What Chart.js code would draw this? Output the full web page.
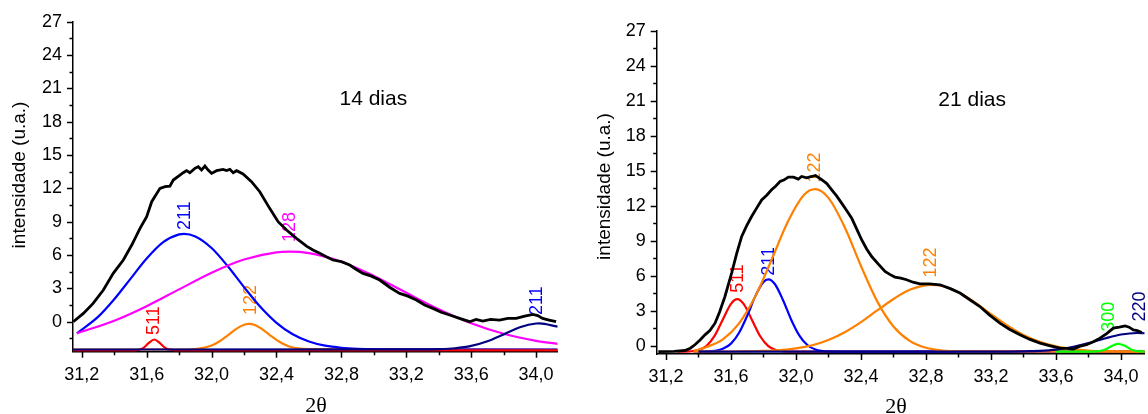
<!DOCTYPE html>
<html>
<head>
<meta charset="utf-8">
<script src="https://cdn.jsdelivr.net/npm/chart.js@4.4.1/dist/chart.umd.min.js"></script>
<style>
  body { margin: 0; background: #fff; }
  #wrap { position: relative; width: 1148px; height: 414px; }
  canvas { position: absolute; top: 0; }
</style>
</head>
<body>
<div id="wrap">
  <canvas id="chart-14" width="580" height="414" style="left:0px"></canvas>
  <canvas id="chart-21" width="568" height="414" style="left:580px"></canvas>
</div>
<script>
// ---- axis ticks ----
const xMajorTicks = [31.2, 31.6, 32.0, 32.4, 32.8, 33.2, 33.6, 34.0];
const xMinorTicks = [31.4, 31.8, 32.2, 32.6, 33.0, 33.4, 33.8];
const yMajorTicks = [0, 3, 6, 9, 12, 15, 18, 21, 24, 27];
const yMinorTicks14 = [-1.5, 1.5, 4.5, 7.5, 10.5, 13.5, 16.5, 19.5, 22.5, 25.5];
const yMinorTicks21 = [1.5, 4.5, 7.5, 10.5, 13.5, 16.5, 19.5, 22.5, 25.5];

// ---- 14 dias ----
const obs14X = [31.148, 31.21, 31.27, 31.333, 31.394, 31.456, 31.508, 31.559, 31.6, 31.631, 31.682, 31.713, 31.743, 31.764, 31.805, 31.825, 31.846, 31.866, 31.897, 31.918, 31.938, 31.959, 31.979, 32.0, 32.031, 32.071, 32.092, 32.113, 32.133, 32.154, 32.194, 32.246, 32.297, 32.358, 32.41, 32.462, 32.523, 32.585, 32.625, 32.666, 32.707, 32.748, 32.8, 32.851, 32.892, 32.933, 32.985, 33.036, 33.097, 33.159, 33.21, 33.262, 33.313, 33.364, 33.415, 33.467, 33.528, 33.59, 33.63, 33.671, 33.72, 33.774, 33.826, 33.877, 33.93, 33.98, 34.01, 34.04, 34.08, 34.123];
const obs14Y = [0.0, 0.75, 1.65, 2.85, 4.35, 5.55, 6.9, 8.4, 9.45, 10.8, 12.0, 12.15, 12.2, 12.75, 13.2, 13.41, 13.6, 13.41, 13.8, 13.95, 13.65, 14.01, 13.65, 13.35, 13.59, 13.71, 13.6, 13.71, 13.41, 13.59, 13.29, 12.6, 11.7, 10.2, 9.0, 8.25, 7.5, 6.8, 6.45, 6.15, 5.85, 5.55, 5.4, 5.1, 4.7, 4.35, 4.1, 3.75, 3.1, 2.55, 2.3, 1.95, 1.5, 1.2, 0.85, 0.6, 0.3, 0.0, 0.2, 0.05, 0.2, 0.15, 0.3, 0.3, 0.5, 0.66, 0.55, 0.3, 0.15, 0.0];

const p511_14X = [31.146, 31.5, 31.55, 31.58, 31.61, 31.647, 31.68, 31.71, 31.74, 31.8, 34.133];
const p511_14Y = [-2.58, -2.58, -2.53, -2.35, -1.96, -1.6, -1.9, -2.31, -2.52, -2.58, -2.58];

const p211a_14X = [31.17, 31.3, 31.4, 31.5, 31.6, 31.7, 31.8, 31.83, 31.9, 32.0, 32.1, 32.2, 32.3, 32.4, 32.5, 32.6, 32.7, 32.8, 32.9, 33.0, 34.133];
const p211a_14Y = [-1.04, 0.43, 2.02, 3.86, 5.69, 7.14, 7.86, 7.9, 7.67, 6.63, 4.99, 3.11, 1.34, -0.1, -1.13, -1.78, -2.16, -2.35, -2.44, -2.48, -2.5];

const p128_14X = [31.17, 31.4, 31.6, 31.8, 32.0, 32.2, 32.4, 32.48, 32.6, 32.8, 33.0, 33.2, 33.4, 33.6, 33.8, 34.0, 34.133];
const p128_14Y = [-1.05, 0.09, 1.4, 2.91, 4.41, 5.6, 6.24, 6.3, 6.17, 5.4, 4.12, 2.6, 1.12, -0.14, -1.09, -1.72, -2.0];

const p122_14X = [31.146, 31.85, 31.95, 32.0, 32.05, 32.1, 32.15, 32.2, 32.231, 32.27, 32.32, 32.37, 32.42, 32.47, 32.52, 32.6, 34.133];
const p122_14Y = [-2.5, -2.5, -2.35, -2.14, -1.76, -1.23, -0.67, -0.28, -0.2, -0.32, -0.75, -1.32, -1.83, -2.18, -2.37, -2.47, -2.5];

const p211b_14X = [31.146, 33.3, 33.4, 33.5, 33.6, 33.7, 33.8, 33.9, 34.0, 34.02, 34.133];
const p211b_14Y = [-2.5, -2.49, -2.47, -2.39, -2.18, -1.76, -1.14, -0.5, -0.16, -0.15, -0.45];

// ---- 21 dias ----
const obs21X = [31.153, 31.25, 31.317, 31.35, 31.378, 31.41, 31.44, 31.47, 31.502, 31.53, 31.563, 31.604, 31.635, 31.666, 31.697, 31.727, 31.758, 31.789, 31.82, 31.85, 31.876, 31.902, 31.925, 31.953, 31.985, 32.014, 32.035, 32.066, 32.097, 32.12, 32.158, 32.19, 32.22, 32.25, 32.281, 32.312, 32.343, 32.374, 32.404, 32.435, 32.466, 32.507, 32.548, 32.58, 32.609, 32.645, 32.681, 32.72, 32.763, 32.82, 32.886, 32.95, 33.009, 33.07, 33.132, 33.19, 33.255, 33.316, 33.378, 33.44, 33.502, 33.565, 33.625, 33.665, 33.706, 33.745, 33.788, 33.83, 33.871, 33.912, 33.953, 33.99, 34.025, 34.05, 34.076, 34.1, 34.128];
const obs21Y = [-0.49, -0.47, -0.4, -0.2, 0.09, 0.5, 0.94, 1.3, 1.94, 2.9, 4.23, 6.23, 7.9, 9.37, 10.3, 11.08, 11.8, 12.5, 12.9, 13.37, 13.7, 14.08, 14.2, 14.46, 14.45, 14.29, 14.51, 14.4, 14.51, 14.6, 14.23, 13.9, 13.37, 12.85, 12.23, 11.6, 10.94, 10.0, 9.09, 8.3, 7.65, 7.0, 6.37, 6.1, 5.89, 5.8, 5.66, 5.45, 5.31, 5.3, 5.23, 4.9, 4.52, 3.95, 3.37, 2.65, 1.94, 1.4, 0.94, 0.55, 0.23, 0.0, -0.2, -0.22, -0.28, -0.05, 0.09, 0.35, 0.66, 1.05, 1.52, 1.6, 1.71, 1.6, 1.37, 1.3, 1.14];

const p511_21X = [31.27, 31.35, 31.4, 31.45, 31.5, 31.55, 31.6, 31.639, 31.68, 31.73, 31.78, 31.83, 31.88, 31.95, 32.1, 34.146];
const p511_21Y = [-0.5, -0.47, -0.37, 0.0, 0.87, 2.26, 3.6, 4.0, 3.56, 2.2, 0.82, -0.03, -0.38, -0.49, -0.5, -0.5];

const p211_21X = [31.37, 31.45, 31.5, 31.55, 31.6, 31.65, 31.7, 31.75, 31.8, 31.83, 31.87, 31.92, 31.97, 32.02, 32.07, 32.12, 32.2, 32.3, 34.146];
const p211_21Y = [-0.5, -0.48, -0.43, -0.26, 0.19, 1.12, 2.58, 4.26, 5.47, 5.7, 5.3, 3.93, 2.26, 0.9, 0.07, -0.31, -0.48, -0.5, -0.5];

const p122a_21X = [31.37, 31.45, 31.55, 31.65, 31.75, 31.85, 31.95, 32.05, 32.117, 32.2, 32.3, 32.4, 32.5, 32.6, 32.7, 32.8, 32.9, 33.0, 34.146];
const p122a_21Y = [-0.45, -0.1, 0.56, 1.93, 4.24, 7.38, 10.64, 12.94, 13.43, 12.68, 10.16, 6.84, 3.81, 1.66, 0.42, -0.17, -0.4, -0.47, -0.5];

const p122b_21X = [31.37, 31.6, 31.8, 31.9, 32.0, 32.1, 32.2, 32.3, 32.4, 32.5, 32.6, 32.7, 32.835, 32.9, 33.0, 33.1, 33.2, 33.3, 33.4, 33.5, 33.6, 33.7, 33.8, 33.9, 34.146];
const p122b_21Y = [-0.5, -0.49, -0.44, -0.37, -0.22, 0.05, 0.5, 1.16, 2.03, 3.03, 4.01, 4.8, 5.23, 5.13, 4.59, 3.73, 2.72, 1.75, 0.94, 0.35, -0.04, -0.27, -0.4, -0.46, -0.5];

const p300_21X = [33.6, 33.8, 33.85, 33.9, 33.95, 33.984, 34.02, 34.07, 34.12, 34.146];
const p300_21Y = [-0.5, -0.5, -0.48, -0.34, 0.03, 0.17, 0.02, -0.35, -0.48, -0.5];

const p220_21X = [31.4, 33.2, 33.4, 33.5, 33.6, 33.7, 33.8, 33.9, 34.0, 34.1, 34.146];
const p220_21Y = [-0.5, -0.5, -0.48, -0.43, -0.32, -0.1, 0.23, 0.63, 0.97, 1.1, 1.08];

const FONT = '"Liberation Sans", Arial, sans-serif';

function zip(xs, ys) {
    return xs.map((x, i) => ({ x: x, y: ys[i] }));
}

function peak(label, xs, ys, color) {
    return {
        label: label,
        data: zip(xs, ys),
        borderColor: color,
        borderWidth: 2.2,
        pointRadius: 0,
        showLine: true,
        cubicInterpolationMode: 'monotone'
    };
}

function observed(xs, ys) {
    return {
        label: 'obs',
        data: zip(xs, ys),
        borderColor: '#000000',
        borderWidth: 2.8,
        pointRadius: 0,
        showLine: true,
        tension: 0
    };
}

// draws peak labels, tick marks and titles
const decorPlugin = {
    id: 'decor',
    beforeDatasetsDraw(chart, args, opts) {
        const ctx = chart.ctx;
        const xs = chart.scales.x;
        const ys = chart.scales.y;
        opts.peaks.forEach(p => {
            ctx.save();
            ctx.translate(xs.getPixelForValue(p.x), ys.getPixelForValue(p.y));
            ctx.rotate(-Math.PI / 2);
            ctx.fillStyle = p.color;
            ctx.font = '18px ' + FONT;
            ctx.textAlign = 'left';
            ctx.textBaseline = 'middle';
            ctx.fillText(p.text, 0, 0);
            ctx.restore();
        });
    },
    afterDraw(chart, args, opts) {
        const ctx = chart.ctx;
        const area = chart.chartArea;
        const xs = chart.scales.x;
        const ys = chart.scales.y;
        ctx.save();
        ctx.strokeStyle = '#000';
        ctx.lineWidth = 1.5;
        ctx.beginPath();
        xMajorTicks.forEach(v => {
            const px = Math.round(xs.getPixelForValue(v)) + 0.5;
            ctx.moveTo(px, area.bottom); ctx.lineTo(px, area.bottom + 6);
        });
        xMinorTicks.forEach(v => {
            const px = Math.round(xs.getPixelForValue(v)) + 0.5;
            ctx.moveTo(px, area.bottom); ctx.lineTo(px, area.bottom + 3.5);
        });
        yMajorTicks.forEach(v => {
            const py = Math.round(ys.getPixelForValue(v)) + 0.5;
            ctx.moveTo(area.left, py); ctx.lineTo(area.left - 6, py);
        });
        opts.yMinor.forEach(v => {
            const py = Math.round(ys.getPixelForValue(v)) + 0.5;
            ctx.moveTo(area.left, py); ctx.lineTo(area.left - 3.5, py);
        });
        ctx.stroke();

        ctx.fillStyle = '#000';
        // y title
        ctx.save();
        ctx.translate(opts.yTitle.x, opts.yTitle.y);
        ctx.rotate(-Math.PI / 2);
        ctx.font = '19px ' + FONT;
        ctx.textAlign = 'center';
        ctx.textBaseline = 'middle';
        ctx.fillText('intensidade (u.a.)', 0, 0);
        ctx.restore();
        // panel title
        ctx.font = '21px ' + FONT;
        ctx.textAlign = 'left';
        ctx.textBaseline = 'alphabetic';
        ctx.fillText(opts.title.text, opts.title.x, opts.title.y);
        // x title
        ctx.font = '22px "Liberation Serif", "Times New Roman", serif';
        ctx.textAlign = 'center';
        ctx.fillText('2\u03B8', opts.xTitle.x, opts.xTitle.y);
        ctx.restore();
    }
};

function makeChart(canvasId, setup) {
    return new Chart(document.getElementById(canvasId), {
        type: 'scatter',
        data: { datasets: setup.datasets },
        options: {
            responsive: false,
            animation: false,
            devicePixelRatio: 1,
            layout: { padding: setup.padding },
            plugins: {
                legend: { display: false },
                tooltip: { enabled: false },
                decor: setup.decor
            },
            scales: {
                x: {
                    type: 'linear',
                    min: setup.xMin,
                    max: setup.xMax,
                    grid: { display: false, drawTicks: false },
                    border: { display: true, color: '#000', width: 1.5 },
                    afterBuildTicks: scale => { scale.ticks = xMajorTicks.map(v => ({ value: v })); },
                    afterFit: scale => {
                        scale.height = 40;
                        scale.paddingLeft = 0; scale.paddingRight = 0;
                        scale.paddingTop = 0; scale.paddingBottom = 0;
                    },
                    ticks: {
                        padding: setup.xPad,
                        maxRotation: 0,
                        autoSkip: false,
                        color: '#000',
                        font: { family: FONT, size: 18 },
                        callback: v => v.toFixed(1).replace('.', ',')
                    }
                },
                y: {
                    type: 'linear',
                    min: setup.yMin,
                    max: 27,
                    grid: { display: false, drawTicks: false },
                    border: { display: true, color: '#000', width: 1.5 },
                    afterBuildTicks: scale => { scale.ticks = yMajorTicks.map(v => ({ value: v })); },
                    afterFit: scale => {
                        scale.width = setup.yWidth;
                        scale.paddingLeft = 0; scale.paddingRight = 0;
                        scale.paddingTop = 0; scale.paddingBottom = 0;
                    },
                    ticks: {
                        padding: 11,
                        color: '#000',
                        font: { family: FONT, size: 18 },
                        callback: v => String(v)
                    }
                }
            }
        },
        plugins: [decorPlugin]
    });
}

makeChart('chart-14', {
    datasets: [
        observed(obs14X, obs14Y),
        peak('211', p211b_14X, p211b_14Y, '#000080'),
        peak('511', p511_14X, p511_14Y, '#ff0000'),
        peak('128', p128_14X, p128_14Y, '#ff00ff'),
        peak('211', p211a_14X, p211a_14Y, '#0000ff'),
        peak('122', p122_14X, p122_14Y, '#ff8000')
    ],
    padding: { left: 0, top: 21.7, right: 22.3, bottom: 22.3 },
    xMin: 31.146, xMax: 34.133, yMin: -2.7, yWidth: 73, xPad: 13,
    decor: {
        yMinor: yMinorTicks14,
        yTitle: { x: 20, y: 175 },
        title: { text: '14 dias', x: 339.5, y: 105 },
        xTitle: { x: 316, y: 412 },
        peaks: [
            { text: '511', x: 31.647, y: -1.2, color: '#ff0000' },
            { text: '211', x: 31.836, y: 8.25, color: '#0000ff' },
            { text: '122', x: 32.243, y: 0.6, color: '#ff8000' },
            { text: '128', x: 32.482, y: 7.17, color: '#ff00ff' },
            { text: '211', x: 34.005, y: 0.6, color: '#0000ff' }
        ]
    }
});

makeChart('chart-21', {
    datasets: [
        observed(obs21X, obs21Y),
        peak('220', p220_21X, p220_21Y, '#000080'),
        peak('300', p300_21X, p300_21Y, '#00ff00'),
        peak('122', p122b_21X, p122b_21Y, '#ff8000'),
        peak('122', p122a_21X, p122a_21Y, '#ff8000'),
        peak('211', p211_21X, p211_21Y, '#0000ff'),
        peak('511', p511_21X, p511_21Y, '#ff0000')
    ],
    padding: { left: 0, top: 30.7, right: 3.3, bottom: 20 },
    xMin: 31.143, xMax: 34.146, yMin: -0.7, yWidth: 76.7, xPad: 12,
    decor: {
        yMinor: yMinorTicks21,
        yTitle: { x: 25, y: 186.5 },
        title: { text: '21 dias', x: 358.3, y: 106 },
        xTitle: { x: 316, y: 412.5 },
        peaks: [
            { text: '511', x: 31.643, y: 4.54, color: '#ff0000' },
            { text: '211', x: 31.834, y: 6.0, color: '#0000ff' },
            { text: '122', x: 32.117, y: 14.0, color: '#ff8000' },
            { text: '122', x: 32.831, y: 5.85, color: '#ff8000' },
            { text: '300', x: 33.926, y: 1.2, color: '#00ff00' },
            { text: '220', x: 34.12, y: 2.08, color: '#000080' }
        ]
    }
});
</script>
</body>
</html>
